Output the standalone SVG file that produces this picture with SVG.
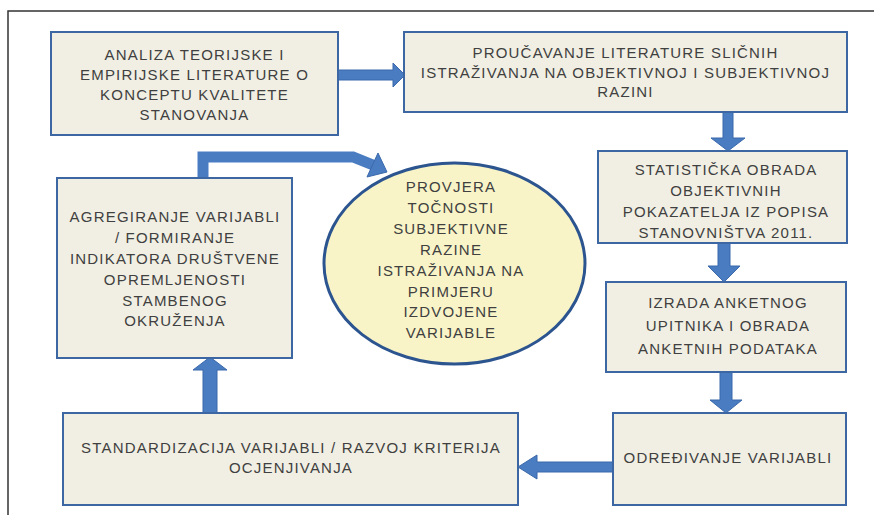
<svg xmlns="http://www.w3.org/2000/svg" width="874" height="515" viewBox="0 0 874 515">
<style>
.box{fill:#f1efe3;stroke:#3d67a3;stroke-width:2}
.ell{fill:#f8f4c8;stroke:#2c5590;stroke-width:3}
.arr{fill:#4a7cc1;stroke:#3b69ab;stroke-width:1}
.shaft{fill:none;stroke:#4a7cc1;stroke-width:11}
text{font-family:"Liberation Sans",Arial,sans-serif;font-size:15px;fill:#404040;letter-spacing:1.2px;text-anchor:middle}
.frame{fill:none;stroke:#333;stroke-width:1.5}
</style>
<rect x="0" y="0" width="874" height="515" fill="#fff"/>
<path class="frame" d="M8,515 V11 H874"/>
<g id="connectors">
  <polygon class="arr" points="338,70 393,70 393,63 405,75 393,87 393,80 338,80"/>
  <polygon class="arr" points="723,112 733,112 733,138 745,138 728,151 711,138 723,138"/>
  <polygon class="arr" points="718,243 730,243 730,266 740,266 724,282 708,266 718,266"/>
  <polygon class="arr" points="720,372 732,372 732,400 742,400 726,413 710,400 720,400"/>
  <polygon class="arr" points="613,462 537,462 537,455 518,467 537,479 537,472 613,472"/>
  <polygon class="arr" points="203,413 217,413 217,370 227,370 210,357 193,370 203,370"/>
  <path class="shaft" d="M203,178 V157 H353 L373,165"/>
  <polygon class="arr" points="367,177 378,153 387,172"/>
</g>
<g id="node-analiza">
  <rect class="box" x="51" y="32" width="287" height="103"/>
  <text x="194.5" y="60">ANALIZA TEORIJSKE I</text>
  <text x="194.5" y="80">EMPIRIJSKE LITERATURE O</text>
  <text x="194.5" y="100">KONCEPTU KVALITETE</text>
  <text x="194.5" y="120">STANOVANJA</text>
</g>
<g id="node-proucavanje">
  <rect class="box" x="404" y="32" width="443" height="80"/>
  <text x="625.5" y="58">PROUČAVANJE LITERATURE SLIČNIH</text>
  <text x="625.5" y="78">ISTRAŽIVANJA NA OBJEKTIVNOJ I SUBJEKTIVNOJ</text>
  <text x="625.5" y="97">RAZINI</text>
</g>
<g id="node-statisticka">
  <rect class="box" x="598" y="151" width="249" height="92"/>
  <text x="726" y="174.5">STATISTIČKA OBRADA</text>
  <text x="726" y="195.5">OBJEKTIVNIH</text>
  <text x="726" y="216.5">POKAZATELJA IZ POPISA</text>
  <text x="726" y="237.5">STANOVNIŠTVA 2011.</text>
</g>
<g id="node-izrada">
  <rect class="box" x="606" y="282" width="240" height="90"/>
  <text x="728" y="308">IZRADA ANKETNOG</text>
  <text x="728" y="331">UPITNIKA I OBRADA</text>
  <text x="728" y="354">ANKETNIH PODATAKA</text>
</g>
<g id="node-odredivanje">
  <rect class="box" x="613" y="413" width="233" height="92"/>
  <text x="728" y="463">ODREĐIVANJE VARIJABLI</text>
</g>
<g id="node-standardizacija">
  <rect class="box" x="63" y="413" width="455" height="92"/>
  <text x="291" y="453">STANDARDIZACIJA VARIJABLI / RAZVOJ KRITERIJA</text>
  <text x="291" y="473">OCJENJIVANJA</text>
</g>
<g id="node-agregiranje">
  <rect class="box" x="57" y="178" width="235" height="180"/>
  <text x="175" y="222">AGREGIRANJE VARIJABLI</text>
  <text x="175" y="243">/ FORMIRANJE</text>
  <text x="175" y="264">INDIKATORA DRUŠTVENE</text>
  <text x="175" y="285">OPREMLJENOSTI</text>
  <text x="175" y="306">STAMBENOG</text>
  <text x="175" y="326">OKRUŽENJA</text>
</g>
<g id="node-provjera">
  <ellipse class="ell" cx="454.5" cy="263.5" rx="130.5" ry="100.5"/>
  <text x="451" y="192">PROVJERA</text>
  <text x="451" y="213">TOČNOSTI</text>
  <text x="451" y="234">SUBJEKTIVNE</text>
  <text x="451" y="255">RAZINE</text>
  <text x="451" y="276">ISTRAŽIVANJA NA</text>
  <text x="451" y="297">PRIMJERU</text>
  <text x="451" y="317">IZDVOJENE</text>
  <text x="451" y="338">VARIJABLE</text>
</g>
</svg>
